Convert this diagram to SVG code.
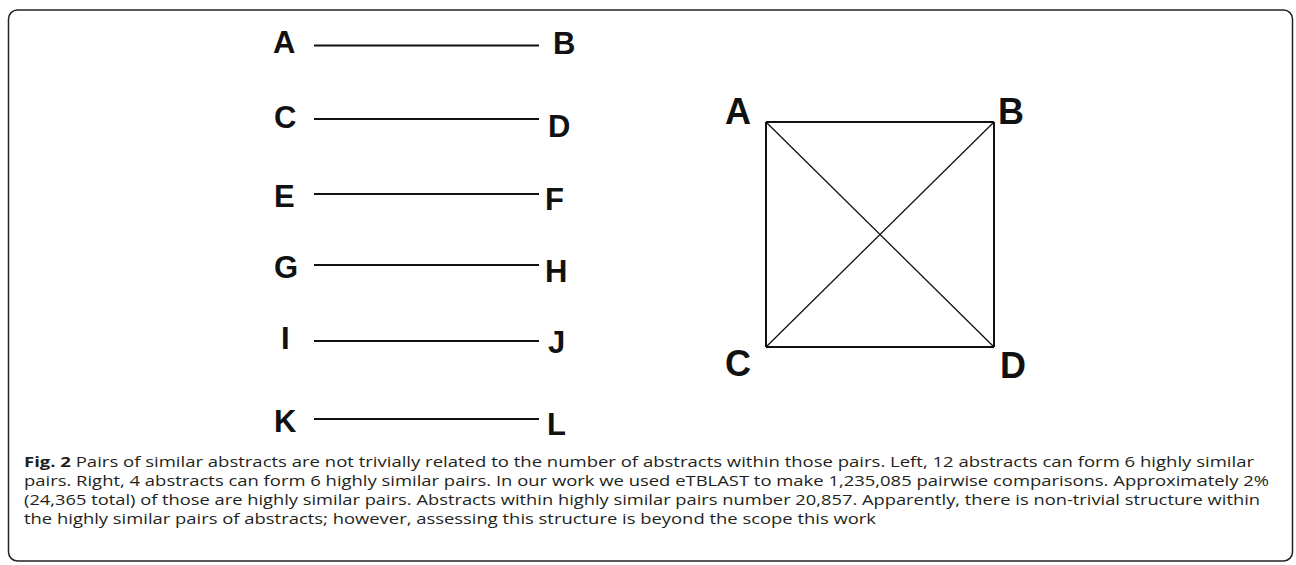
<svg xmlns="http://www.w3.org/2000/svg" width="1296" height="565" viewBox="0 0 1296 565">
<style>
.lbl{font-family:"Liberation Sans",Arial,sans-serif;font-weight:bold;font-size:31px;fill:#111}
.big{font-size:36px}
.edge{stroke:#111;stroke-width:2;fill:none}
.diag{stroke:#111;stroke-width:1.3;fill:none}
.cap{font-family:"Open Sans","Noto Sans",sans-serif;font-size:14px;fill:#231f20}
</style>
<rect x="8.5" y="10" width="1284" height="551" rx="9" fill="#fff" stroke="#222" stroke-width="1.5"/>
<g id="connectors">
<line class="edge" x1="314" y1="45.5" x2="539" y2="45.5"/>
<line class="edge" x1="314" y1="119" x2="539" y2="119"/>
<line class="edge" x1="314" y1="194" x2="539" y2="194"/>
<line class="edge" x1="314" y1="265" x2="539" y2="265"/>
<line class="edge" x1="314" y1="341" x2="539" y2="341"/>
<line class="edge" x1="314" y1="419" x2="539" y2="419"/>
<line class="edge" x1="766" y1="122" x2="994" y2="122"/>
<line class="edge" x1="766" y1="347" x2="994" y2="347"/>
<line class="edge" x1="766" y1="122" x2="766" y2="347"/>
<line class="edge" x1="994" y1="122" x2="994" y2="347"/>
<line class="diag" x1="766" y1="122" x2="994" y2="347"/>
<line class="diag" x1="994" y1="122" x2="766" y2="347"/>
</g>
<g id="left-A"><text class="lbl" x="273" y="53">A</text></g>
<g id="left-B"><text class="lbl" x="553" y="54">B</text></g>
<g id="left-C"><text class="lbl" x="274" y="128">C</text></g>
<g id="left-D"><text class="lbl" x="548" y="137">D</text></g>
<g id="left-E"><text class="lbl" x="274" y="207">E</text></g>
<g id="left-F"><text class="lbl" x="545" y="210">F</text></g>
<g id="left-G"><text class="lbl" x="274" y="278">G</text></g>
<g id="left-H"><text class="lbl" x="545" y="282">H</text></g>
<g id="left-I"><text class="lbl" x="281" y="349">I</text></g>
<g id="left-J"><text class="lbl" x="548" y="353">J</text></g>
<g id="left-K"><text class="lbl" x="274" y="432">K</text></g>
<g id="left-L"><text class="lbl" x="547" y="435">L</text></g>
<g id="sq-A"><text class="lbl big" x="725" y="124">A</text></g>
<g id="sq-B"><text class="lbl big" x="998" y="124">B</text></g>
<g id="sq-C"><text class="lbl big" x="725" y="376">C</text></g>
<g id="sq-D"><text class="lbl big" x="1000" y="378">D</text></g>
<g id="caption">
<text class="cap" x="24" y="466.5" textLength="1230" lengthAdjust="spacingAndGlyphs"><tspan font-weight="bold">Fig. 2</tspan> Pairs of similar abstracts are not trivially related to the number of abstracts within those pairs. Left, 12 abstracts can form 6 highly similar</text>
<text class="cap" x="24" y="485.5" textLength="1245" lengthAdjust="spacingAndGlyphs">pairs. Right, 4 abstracts can form 6 highly similar pairs. In our work we used eTBLAST to make 1,235,085 pairwise comparisons. Approximately 2%</text>
<text class="cap" x="24" y="504.5" textLength="1236" lengthAdjust="spacingAndGlyphs">(24,365 total) of those are highly similar pairs. Abstracts within highly similar pairs number 20,857. Apparently, there is non-trivial structure within</text>
<text class="cap" x="24" y="523.5" textLength="852" lengthAdjust="spacingAndGlyphs">the highly similar pairs of abstracts; however, assessing this structure is beyond the scope this work</text>
</g>
</svg>
